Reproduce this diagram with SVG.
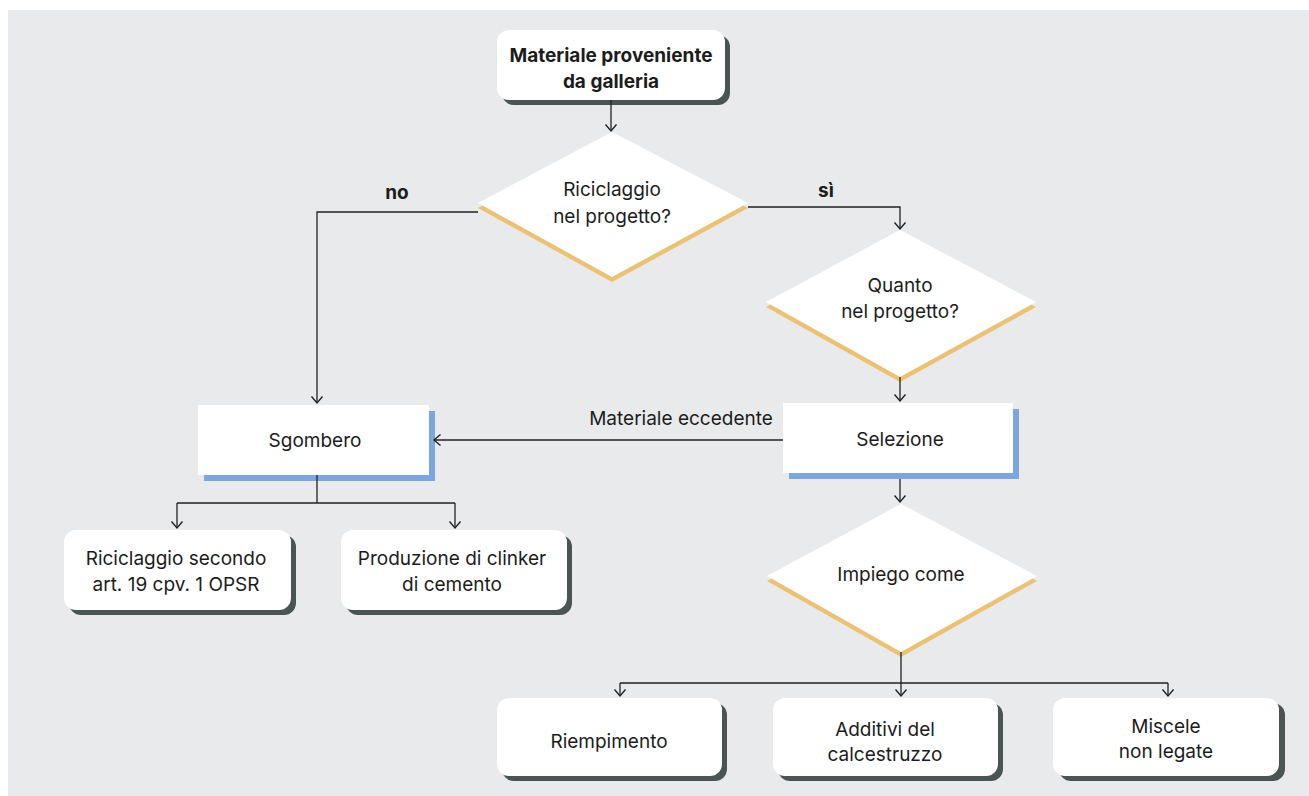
<svg xmlns="http://www.w3.org/2000/svg" width="1309" height="796" viewBox="0 0 1309 796">
<defs>
<style>
.t{font-family:Inter,"Liberation Sans",sans-serif;font-size:19px;fill:#1c1c1c;text-anchor:middle}
.b{font-weight:700}
.box{fill:#ffffff}
.sh{fill:#4a5452}
.bsh{fill:#7ba6e2}
.osh{fill:#ebc172}
.c{fill:none;stroke:#222;stroke-width:1.3}
</style>
<marker id="ar" viewBox="0 0 14 14" refX="12" refY="7" markerWidth="14" markerHeight="14" markerUnits="userSpaceOnUse" orient="auto">
<path d="M5.5,1.5 L12,7 L5.5,12.5" fill="none" stroke="#222" stroke-width="1.4"/>
</marker>
</defs>
<rect x="0" y="0" width="1309" height="796" fill="#ffffff"/>
<rect x="8" y="10" width="1301" height="786" fill="#e9eaec"/>

<g id="start">
<rect class="sh" x="502" y="35" width="228" height="70" rx="12"/>
<rect class="box" x="497" y="30" width="228" height="70" rx="12"/>
<text class="t b" x="611" y="62">Materiale proveniente</text>
<text class="t b" x="611" y="88">da galleria</text>
</g>

<g id="dec1">
<polygon class="osh" points="612,137 748,208 612,282 478,208"/>
<polygon class="box" points="612,132 748,203 612,277 478,203"/>
<text class="t" x="612" y="196">Riciclaggio</text>
<text class="t" x="612" y="223">nel progetto?</text>
</g>

<g id="dec2">
<polygon class="osh" points="900,235 1036,307 900,382 766,307"/>
<polygon class="box" points="900,230 1036,302 900,377 766,302"/>
<text class="t" x="900" y="292">Quanto</text>
<text class="t" x="900" y="318">nel progetto?</text>
</g>

<g id="sgombero">
<rect class="bsh" x="204" y="411" width="231" height="70"/>
<rect class="box" x="198" y="405" width="231" height="70"/>
<text class="t" x="315" y="447">Sgombero</text>
</g>

<g id="selezione">
<rect class="bsh" x="789" y="409" width="230" height="70"/>
<rect class="box" x="783" y="403" width="230" height="70"/>
<text class="t" x="900" y="446">Selezione</text>
</g>

<g id="riciclaggio">
<rect class="sh" x="69" y="535" width="227" height="80" rx="12"/>
<rect class="box" x="64" y="530" width="227" height="80" rx="12"/>
<text class="t" x="176" y="565">Riciclaggio secondo</text>
<text class="t" x="176" y="591">art. 19 cpv. 1 OPSR</text>
</g>

<g id="clinker">
<rect class="sh" x="346" y="535" width="226" height="80" rx="12"/>
<rect class="box" x="341" y="530" width="226" height="80" rx="12"/>
<text class="t" x="452" y="565">Produzione di clinker</text>
<text class="t" x="452" y="591">di cemento</text>
</g>

<g id="dec3">
<polygon class="osh" points="901,509 1037,581 901,657 767,581"/>
<polygon class="box" points="901,504 1037,576 901,652 767,576"/>
<text class="t" x="901" y="581">Impiego come</text>
</g>

<g id="riempimento">
<rect class="sh" x="502" y="703" width="225" height="78" rx="12"/>
<rect class="box" x="497" y="698" width="225" height="78" rx="12"/>
<text class="t" x="609" y="748">Riempimento</text>
</g>

<g id="additivi">
<rect class="sh" x="778" y="703" width="225" height="78" rx="12"/>
<rect class="box" x="773" y="698" width="225" height="78" rx="12"/>
<text class="t" x="885" y="736">Additivi del</text>
<text class="t" x="885" y="761">calcestruzzo</text>
</g>

<g id="miscele">
<rect class="sh" x="1059" y="703" width="226" height="78" rx="12"/>
<rect class="box" x="1053" y="698" width="226" height="78" rx="12"/>
<text class="t" x="1166" y="733">Miscele</text>
<text class="t" x="1166" y="758">non legate</text>
</g>

<g id="connectors">
<path class="c" d="M611,100 V131" marker-end="url(#ar)"/>
<path class="c" d="M478,212 H317 V403" marker-end="url(#ar)"/>
<path class="c" d="M748,207 H900 V229" marker-end="url(#ar)"/>
<path class="c" d="M900,377 V401" marker-end="url(#ar)"/>
<path class="c" d="M783,440 H434" marker-end="url(#ar)"/>
<path class="c" d="M317,475 V503 M177,503 H455"/>
<path class="c" d="M177,503 V528" marker-end="url(#ar)"/>
<path class="c" d="M455,503 V528" marker-end="url(#ar)"/>
<path class="c" d="M900,479 V502" marker-end="url(#ar)"/>
<path class="c" d="M901,652 V683 M620,683 H1168"/>
<path class="c" d="M620,683 V696" marker-end="url(#ar)"/>
<path class="c" d="M901,683 V696" marker-end="url(#ar)"/>
<path class="c" d="M1168,683 V696" marker-end="url(#ar)"/>
<text class="t b" x="397" y="199">no</text>
<text class="t b" x="826" y="197">sì</text>
<text class="t" x="681" y="425">Materiale eccedente</text>
</g>
</svg>
